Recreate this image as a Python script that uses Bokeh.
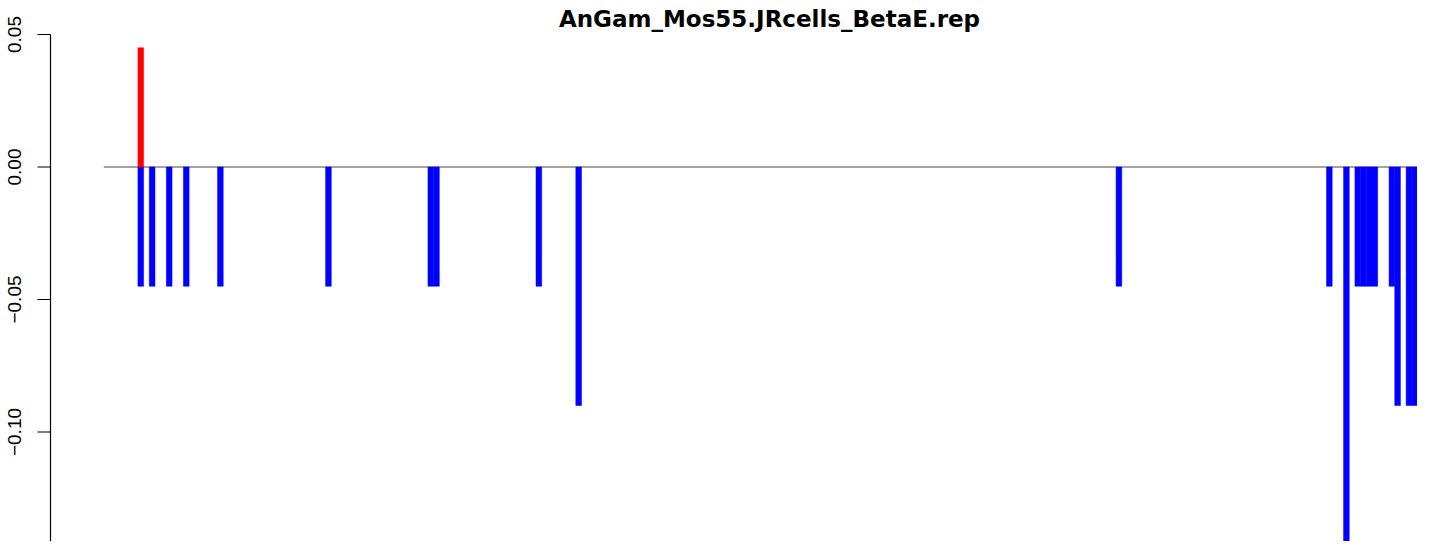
import math
from bokeh.plotting import figure
from bokeh.models import Range1d, Label, ColumnDataSource
from bokeh.core.properties import value
from bokeh.embed import file_html
from bokeh.resources import INLINE

# ---- data ----
title_text = "AnGam_Mos55.JRcells_BetaE.rep"
n_bins = 231
pos_index = [6]
pos_value = [0.045]
neg_index = [6, 8, 11, 14, 20, 39, 57, 58, 76, 83, 178, 215, 218,
             220, 221, 222, 223, 226, 227, 229, 230]
neg_value = [-0.045, -0.045, -0.045, -0.045, -0.045, -0.045, -0.045, -0.045,
             -0.045, -0.09, -0.045, -0.045, -0.18,
             -0.045, -0.045, -0.045, -0.045, -0.045, -0.09, -0.09, -0.09]
tick_values = [-0.15, -0.10, -0.05, 0.00, 0.05]

# ---- layout ----
W, H = 1417, 541
axis_px = 50              # axis line column
tick_len_px = 13
label_center_px = 13.5
top_px = 34               # pixel row of the top tick
px_per_unit_y = 2650.0
bars_left_px = 103.3      # pixel column where the bar region starts
px_per_bin = (W - bars_left_px) / n_bins
y_top_tick = max(tick_values)
y_end = y_top_tick + top_px / px_per_unit_y
y_start = y_end - H / px_per_unit_y
x_start = -bars_left_px / px_per_bin
x_end = n_bins


def px_to_x(px):
    return x_start + px / px_per_bin


p = figure(width=W, height=H, output_backend="svg", toolbar_location=None,
           x_axis_location=None, y_axis_location=None,
           x_range=Range1d(x_start, x_end), y_range=Range1d(y_start, y_end),
           min_border_left=0, min_border_right=0, min_border_top=0,
           min_border_bottom=0)
p.outline_line_color = None
p.grid.visible = False
p.background_fill_color = "white"
p.border_fill_color = "white"

# baseline across the bar region
p.segment(x0=[0], y0=[0], x1=[n_bins], y1=[0], line_color="#858585", line_width=1.6)

neg_src = ColumnDataSource(dict(x=[i + 0.5 for i in neg_index], top=neg_value))
pos_src = ColumnDataSource(dict(x=[i + 0.5 for i in pos_index], top=pos_value))
p.vbar(x="x", top="top", bottom=0, width=1.0, source=neg_src,
       fill_color="#0000FF", line_color="#0000FF", line_width=0.5)
p.vbar(x="x", top="top", bottom=0, width=1.0, source=pos_src,
       fill_color="#FF0000", line_color="#FF0000", line_width=0.5)

# ---- y axis (R style: line spans first to last tick) ----
ax_x = px_to_x(axis_px)
tick_x0 = px_to_x(axis_px - tick_len_px)
p.segment(x0=[ax_x], y0=[min(tick_values)], x1=[ax_x], y1=[max(tick_values)],
          line_color="black", line_width=1.2)
p.segment(x0=[tick_x0] * len(tick_values), y0=tick_values,
          x1=[ax_x] * len(tick_values), y1=tick_values,
          line_color="black", line_width=1.2)


def fmt(t):
    return ("\u2212" if t < -1e-9 else "") + f"{abs(t):.2f}"


shown = [t for t in tick_values if t - 0.02 > y_start]
lab_src = ColumnDataSource(dict(x=[px_to_x(label_center_px)] * len(shown),
                                y=shown, text=[fmt(t) for t in shown]))
p.text(x="x", y="y", text="text", source=lab_src, angle=math.pi / 2,
       text_align="center", text_baseline="middle",
       text_font=value("Liberation Sans"), text_font_size="19px",
       text_color="black")

title_center_px = 769
title = Label(x=px_to_x(title_center_px),
              y=y_top_tick + (top_px - 18) / px_per_unit_y, text=title_text,
              text_align="center", text_baseline="alphabetic",
              text_font="DejaVu Sans", text_font_style="bold",
              text_font_size="23px", text_color="black")
p.add_layout(title)

open("out.html", "w").write(file_html(p, INLINE))
